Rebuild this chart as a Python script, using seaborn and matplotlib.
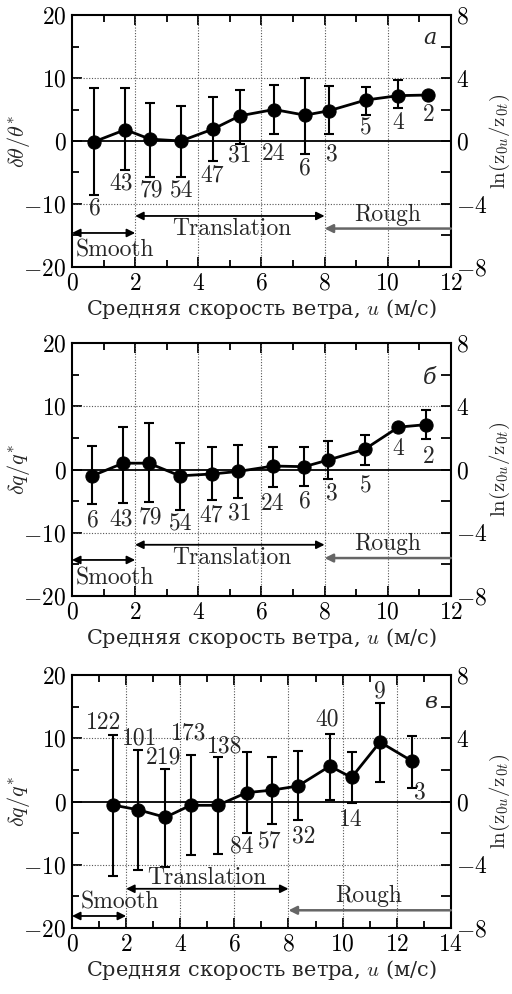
import numpy as np
import pandas as pd
import matplotlib
matplotlib.use("Agg")
import matplotlib.pyplot as plt
import seaborn as sns
from matplotlib.ticker import MultipleLocator

# panel a
u_a = [0.71, 1.69, 2.47, 3.45, 4.47, 5.32, 6.4, 7.38, 8.14, 9.3, 10.34, 11.29]
d_a = [-0.1, 1.8, 0.3, 0.0, 1.9, 4.0, 5.0, 4.1, 4.8, 6.5, 7.2, 7.3]
top_a = [8.4, 8.4, 6.1, 5.5, 7.0, 8.1, 8.9, 10.0, 8.7, 8.6, 9.7, np.nan]
bot_a = [-8.6, -4.6, -5.7, -5.7, -3.1, -0.4, 1.1, -2.0, 1.1, 4.1, 5.2, np.nan]
n_a = ["6", "43", "79", "54", "47", "31", "24", "6", "3", "5", "4", "2"]
nx_a = [0.72, 1.55, 2.5, 3.47, 4.45, 5.33, 6.4, 7.38, 8.22, 9.3, 10.34, 11.29]
ny_a = [-10.7, -6.8, -7.8, -7.8, -5.4, -2.3, -2.1, -4.4, -2.1, 2.0, 2.8, 4.1]

# panel b
u_b = [0.64, 1.62, 2.43, 3.42, 4.45, 5.27, 6.37, 7.36, 8.11, 9.27, 10.34, 11.22]
d_b = [-1.0, 1.0, 1.0, -1.0, -0.7, -0.3, 0.55, 0.45, 1.5, 3.2, 6.7, 7.1]
top_b = [3.7, 6.8, 7.3, 4.2, 3.6, 3.8, 3.6, 3.5, 4.55, 5.4, np.nan, 9.4]
bot_b = [-5.5, -5.3, -5.2, -6.4, -4.8, -4.5, -2.8, -2.6, -1.55, 0.7, np.nan, 4.8]
n_b = ["6", "43", "79", "54", "47", "31", "24", "6", "3", "5", "4", "2"]
nx_b = [0.65, 1.57, 2.47, 3.44, 4.42, 5.3, 6.34, 7.37, 8.22, 9.3, 10.34, 11.29]
ny_b = [-8.0, -7.9, -7.5, -8.5, -7.3, -6.9, -5.45, -5.1, -3.8, -2.7, 3.2, 2.0]

# panel c
u_c = [1.5, 2.44, 3.45, 4.38, 5.39, 6.45, 7.39, 8.35, 9.53, 10.33, 11.38, 12.56]
d_c = [-0.55, -1.3, -2.5, -0.6, -0.6, 1.4, 1.8, 2.45, 5.6, 3.8, 9.4, 6.4]
top_c = [10.5, 8.1, 5.1, 7.4, 7.1, 7.8, 7.1, 8.0, 10.6, 7.8, 15.6, 10.4]
bot_c = [-11.7, -10.9, -10.4, -8.5, -8.3, -5.0, -3.5, -3.0, 0.3, -0.2, 3.1, 2.2]
n_c = ["122", "101", "219", "173", "138", "84", "57", "32", "40", "14", "9", "3"]
nx_c = [1.16, 2.51, 3.37, 4.3, 5.65, 6.27, 7.29, 8.55, 9.44, 10.29, 11.38, 12.86]
ny_c = [12.4, 10.0, 6.9, 10.8, 8.7, -7.1, -6.3, -5.5, 12.9, -2.9, 17.4, 1.5]

sns.set_theme(style="white")
plt.rcParams["font.family"] = ["cmr10", "DejaVu Serif"]
plt.rcParams["mathtext.fontset"] = "cm"
plt.rcParams["axes.formatter.use_mathtext"] = True
plt.rcParams["axes.unicode_minus"] = True

FS = 17
fig = plt.figure(figsize=(5.12, 9.94), dpi=100)

panels = [
    dict(u=u_a, d=d_a, top=top_a, bot=bot_a, n=n_a, nx=nx_a, ny=ny_a, xmax=12,
         ylab=r"$\delta\theta/\theta^{*}$", letter="а", lpos=(11.33, 16.4),
         box=[0.1406, 0.7314, 0.740, 0.2535],
         trans=(-11.9, 5.05, -13.9), smooth=(-14.6, 0.1, -17.4), rough=(-13.9, 10.0, -11.7)),
    dict(u=u_b, d=d_b, top=top_b, bot=bot_b, n=n_b, nx=nx_b, ny=ny_b, xmax=12,
         ylab=r"$\delta q/q^{*}$", letter="б", lpos=(11.33, 14.5),
         box=[0.1406, 0.4004, 0.740, 0.2545],
         trans=(-11.9, 5.05, -14.0), smooth=(-14.3, 0.1, -17.2), rough=(-14.0, 10.0, -11.7)),
    dict(u=u_c, d=d_c, top=top_c, bot=bot_c, n=n_c, nx=nx_c, ny=ny_c, xmax=14,
         ylab=r"$\delta q/q^{*}$", letter="в", lpos=(13.25, 15.8),
         box=[0.1406, 0.0664, 0.740, 0.2545],
         trans=(-13.8, 4.97, -12.1), smooth=(-18.1, 0.32, -16.0), rough=(-17.2, 10.95, -15.0)),
]

for p in panels:
    ax = fig.add_axes(p["box"])
    df = pd.DataFrame({"u": p["u"], "d": p["d"]})
    u = np.array(p["u"])
    d = np.array(p["d"])
    top = np.array(p["top"])
    bot = np.array(p["bot"])
    ok = ~np.isnan(top)
    ax.errorbar(u[ok], d[ok], yerr=[d[ok] - bot[ok], top[ok] - d[ok]], fmt="none",
                ecolor="black", elinewidth=1.5, capsize=3.5, capthick=1.5, zorder=3)
    sns.lineplot(data=df, x="u", y="d", ax=ax, color="black", lw=2, marker="o",
                 markersize=9.5, markeredgecolor="black", zorder=4)

    ax.axhline(0, color="black", lw=1.3, zorder=2)
    for gx in range(2, p["xmax"], 2):
        ax.axvline(gx, color="#555555", lw=0.8, ls=(0, (1, 1.5)), zorder=1)
    for gy in (-10, 10):
        ax.axhline(gy, color="#555555", lw=0.8, ls=(0, (1, 1.5)), zorder=1)

    for lab, x, y in zip(p["n"], p["nx"], p["ny"]):
        ax.text(x, y, lab, ha="center", va="center", fontsize=FS, zorder=5)

    ty, tx, tty = p["trans"]
    ax.annotate("", xy=(2, ty), xytext=(8, ty),
                arrowprops=dict(arrowstyle="<|-|>", color="black", lw=1.3,
                                shrinkA=0, shrinkB=0, mutation_scale=12))
    ax.text(tx, tty, "Translation", ha="center", va="center", fontsize=FS)
    sy, sx, sty = p["smooth"]
    ax.annotate("", xy=(0, sy), xytext=(2, sy),
                arrowprops=dict(arrowstyle="<|-|>", color="black", lw=1.3,
                                shrinkA=0, shrinkB=0, mutation_scale=12))
    ax.text(sx, sty, "Smooth", ha="left", va="center", fontsize=FS)
    ry, rx, rty = p["rough"]
    ax.annotate("", xy=(8, ry), xytext=(p["xmax"], ry),
                arrowprops=dict(arrowstyle="-|>", color="#666666", lw=1.8,
                                shrinkA=0, shrinkB=0, mutation_scale=12))
    ax.text(rx, rty, "Rough", ha="center", va="center", fontsize=FS)

    ax.text(p["lpos"][0], p["lpos"][1], p["letter"], ha="center", va="center",
            fontsize=FS - 1, fontstyle="italic", family="DejaVu Serif")

    ax.set_xlim(0, p["xmax"])
    ax.set_ylim(-20, 20)
    ax.xaxis.set_major_locator(MultipleLocator(2))
    ax.xaxis.set_minor_locator(MultipleLocator(1))
    ax.yaxis.set_major_locator(MultipleLocator(10))
    ax.yaxis.set_minor_locator(MultipleLocator(5))
    ax.tick_params(which="both", direction="in", top=True, bottom=True, left=True,
                   right=False, labelsize=FS, colors="black", pad=4)
    ax.tick_params(which="major", length=7, width=1.3)
    ax.tick_params(which="minor", length=5, width=1.3)
    for s in ax.spines.values():
        s.set_color("black")
        s.set_linewidth(1.5)
    ax.set_xlabel("Средняя скорость ветра, $u$ (м/с)", fontsize=FS - 2,
                  family="DejaVu Serif", labelpad=2)
    ax.set_ylabel(p["ylab"], fontsize=FS - 1, va="center")
    ax.yaxis.set_label_coords(-0.14, 0.5)

    ax2 = ax.twinx()
    ax2.set_ylim(-8, 8)
    ax2.yaxis.set_major_locator(MultipleLocator(4))
    ax2.yaxis.set_minor_locator(MultipleLocator(2))
    ax2.tick_params(which="both", direction="in", right=True, labelsize=FS,
                    colors="black", pad=4)
    ax2.tick_params(which="major", length=7, width=1.3)
    ax2.tick_params(which="minor", length=7, width=1.3)
    ax2.set_ylabel(r"$\ln(\mathrm{z}_{0u}/\mathrm{z}_{0t})$", fontsize=FS - 2,
                   va="center", rotation=90)
    ax2.yaxis.set_label_coords(1.13, 0.5)
    for s in ax2.spines.values():
        s.set_visible(False)

fig.savefig("out.png", dpi=100)
